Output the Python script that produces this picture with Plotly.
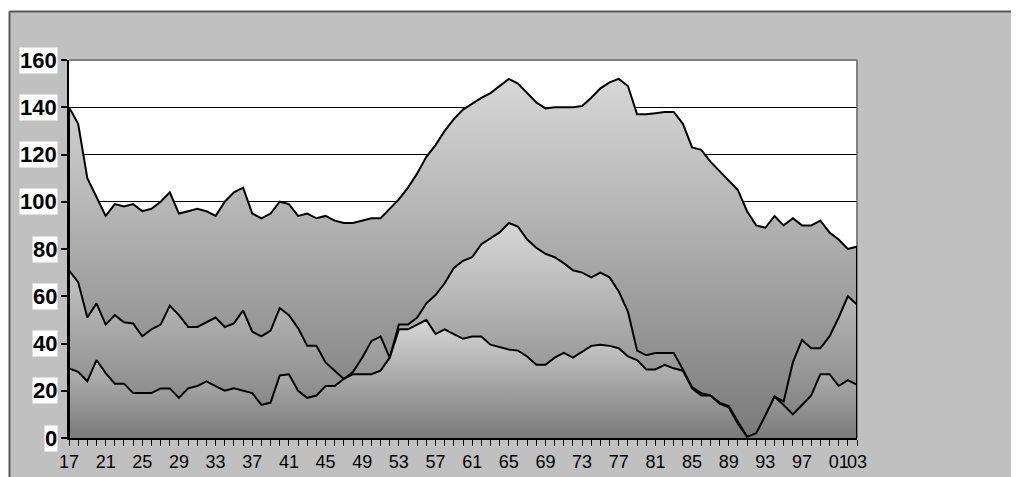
import plotly.graph_objects as go

# ---------------- data ----------------
years = list(range(1917, 2004))

top = [140, 133, 110, 102, 94, 99, 98, 99, 96, 97,
       100, 104, 95, 96, 97, 96, 94, 100, 104, 106,
       95, 93, 95, 100, 99, 94, 95, 93, 94, 92,
       91, 91, 92, 93, 93, 97, 101, 106, 112, 119,
       124, 130, 135, 139, 141.5, 144, 146, 149, 152, 150,
       146, 142, 139.5, 140, 140, 140, 140.5, 144, 148, 150.5,
       152, 149, 137, 137, 137.5, 138, 138, 133, 123, 122,
       117, 113, 109, 105, 96, 90, 89, 94, 90, 93,
       90, 90, 92, 87, 84, 80, 81]

middle = [71, 66, 51, 57, 48, 52, 49, 48.5, 43, 46,
          48, 56, 52, 47, 47, 49, 51, 47, 48.5, 54,
          45, 43, 45.5, 55, 52, 46.5, 39, 39, 32, 28.5,
          25, 28, 34, 41, 43, 34, 48, 48, 51, 57,
          60.5, 65.5, 72, 75, 76.5, 82, 84.5, 87, 91, 89.5,
          84, 80.5, 78, 76.5, 74, 71, 70, 68, 70, 68,
          62, 53.5, 37, 35, 36, 36, 36, 29, 21.5, 19,
          18, 15, 13.5, 7, 0.5, 1.5, 9.5, 17.5, 15.5, 32,
          41.5, 38, 38, 43, 51, 60, 56.5]

bottom = [29.5, 28, 24, 33, 27.5, 23, 23, 19, 19, 19,
          21, 21, 17, 21, 22, 24, 22, 20, 21, 20,
          19, 14, 15, 26.5, 27, 20, 17, 18, 22, 22,
          25, 27, 27, 27, 28.5, 34, 46, 46, 48, 50,
          44, 46, 44, 42, 43, 43, 39.5, 38.5, 37.5, 37,
          34.5, 31, 31, 34, 36, 34, 36.5, 39, 39.5, 39,
          38, 34.5, 33, 29, 29, 31, 29.5, 28.5, 21, 18,
          18, 14.5, 13, 6, 0.5, 2, 9.5, 17.5, 14, 10,
          14, 18, 27, 27, 22, 24.5, 22.5]

labelled_years = list(range(1917, 2002, 4)) + [2003]
x_ticktext = [str(y)[-2:] if y in labelled_years else "" for y in years]
y_ticks = [0, 20, 40, 60, 80, 100, 120, 140, 160]
y_ticktext = [str(v) for v in y_ticks]

# ---------------- figure ----------------
# the page body has an 8px margin, so figure coordinates are offset by 8px
W, H = 1019, 477
L, T = 61, 52
pw, ph = 788, 378
R, B = W - L - pw, H - T - ph


def px2x(px):
    return (px - L) / pw


def py2y(py):
    return (T + ph - py) / ph


fig = go.Figure()

for vals in (top, middle, bottom):
    xs = [years[0]] + years + [years[-1]]
    ys = [0] + vals + [0]
    fig.add_trace(go.Scatter(
        x=xs, y=ys, mode="lines",
        line=dict(color="black", width=2),
        fill="tozeroy",
        fillgradient=dict(type="vertical",
                          colorscale=[[0, "#7a7a7a"], [1, "#d7d7d7"]],
                          start=0, stop=max(vals)),
        showlegend=False, hoverinfo="skip",
    ))

shapes = [
    # white strips outside the gray chart area
    dict(type="rect", xref="paper", yref="paper", x0=px2x(-10), x1=px2x(W + 10),
         y0=py2y(3), y1=py2y(-10), fillcolor="white", line=dict(width=0), layer="below"),
    dict(type="rect", xref="paper", yref="paper", x0=px2x(-10), x1=px2x(1),
         y0=py2y(H + 10), y1=py2y(-10), fillcolor="white", line=dict(width=0), layer="below"),
    # chart area border
    dict(type="line", xref="paper", yref="paper", x0=px2x(1.5), x1=px2x(W + 10),
         y0=py2y(3.5), y1=py2y(3.5), line=dict(color="#5a5a5a", width=2)),
    dict(type="line", xref="paper", yref="paper", x0=px2x(1.5), x1=px2x(1.5),
         y0=py2y(3.5), y1=py2y(H + 10), line=dict(color="#5a5a5a", width=2)),
    # plot area frame (top & right)
    dict(type="line", xref="paper", yref="paper", x0=0, x1=1, y0=1, y1=1,
         line=dict(color="#808080", width=2), layer="above"),
    dict(type="line", xref="paper", yref="paper", x0=1, x1=1, y0=0, y1=1,
         line=dict(color="#808080", width=2), layer="below"),
]

annotations = [
    dict(x=0, xref="paper", y=v, yref="y", text=t, showarrow=False,
         xanchor="right", yanchor="middle", xshift=-11,
         font=dict(family="Liberation Sans, Arial", size=22, color="black", weight="bold"),
         bgcolor="white", borderpad=0)
    for v, t in zip(y_ticks, y_ticktext)
]

fig.update_layout(
    width=W, height=H, autosize=False,
    margin=dict(l=L, r=R, t=T, b=B, pad=0),
    paper_bgcolor="#c0c0c0", plot_bgcolor="white",
    shapes=shapes, annotations=annotations,
    xaxis=dict(range=[years[0], years[-1]], tickmode="array", tickvals=years,
               ticktext=x_ticktext, ticks="outside", ticklen=6, tickwidth=1,
               tickcolor="black", showline=True, linecolor="black", linewidth=2,
               showgrid=False, zeroline=False, tickangle=0,
               tickfont=dict(family="Liberation Sans Narrow, Arial Narrow, Liberation Sans",
                             size=18, color="black")),
    yaxis=dict(range=[0, 160], tickmode="array", tickvals=y_ticks,
               showticklabels=False, ticks="outside", ticklen=6, tickwidth=1.5,
               tickcolor="black", showline=True, linecolor="black", linewidth=2,
               showgrid=True, gridcolor="black", gridwidth=1, zeroline=False),
)

fig.write_html("out.html")
